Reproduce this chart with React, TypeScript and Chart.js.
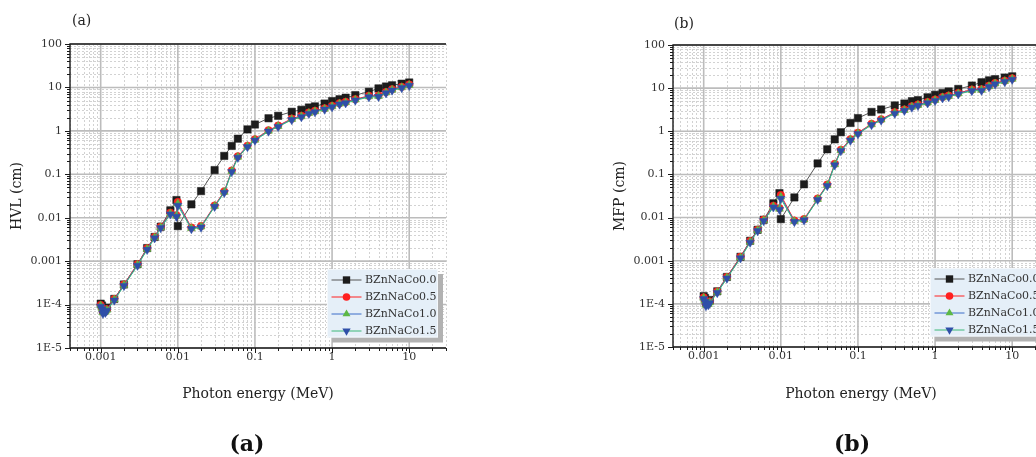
import React, { useEffect, useRef } from 'react';
import { Chart, registerables } from 'chart.js';

Chart.register(...registerables);

const FONT = '"DejaVu Serif", "Liberation Serif", serif';

// Photon energies (MeV)
const ENERGY = [0.001, 0.00104, 0.00107, 0.00115, 0.0012, 0.0015, 0.002, 0.003, 0.004, 0.005, 0.006, 0.008, 0.0096, 0.01, 0.015, 0.02, 0.03, 0.04, 0.05, 0.06, 0.08, 0.1, 0.15, 0.2, 0.3, 0.4, 0.5, 0.6, 0.8, 1, 1.25, 1.5, 2, 3, 4, 5, 6, 8, 10];

const LABELS = ['BZnNaCo0.0', 'BZnNaCo0.5', 'BZnNaCo1.0', 'BZnNaCo1.5'];

// HVL (cm)
const HVL_CO00 = [1.05e-4, 9.5e-5, 7.5e-5, 8.0e-5, 8.5e-5, 1.35e-4, 2.9e-4, 8.5e-4, 0.002, 0.0036, 0.0062, 0.0148, 0.0255, 0.0064, 0.0203, 0.041, 0.125, 0.265, 0.45, 0.66, 1.08, 1.4, 1.95, 2.22, 2.75, 3.05, 3.45, 3.66, 4.25, 4.85, 5.35, 5.8, 6.65, 7.95, 9.5, 10.5, 11.2, 12.2, 13.0];
const HVL_CO05 = [9.8e-5, 8.5e-5, 6.8e-5, 7.0e-5, 7.8e-5, 1.34e-4, 2.9e-4, 8.5e-4, 0.00197, 0.0036, 0.0062, 0.013, 0.0114, 0.023, 0.0059, 0.0064, 0.0191, 0.0403, 0.122, 0.258, 0.455, 0.64, 1.03, 1.32, 1.91, 2.22, 2.63, 2.89, 3.3, 3.77, 4.33, 4.64, 5.36, 6.4, 6.5, 7.84, 9.07, 10.3, 11.65];
const HVL_CO10 = [9.5e-5, 8.2e-5, 6.5e-5, 6.8e-5, 7.5e-5, 1.3e-4, 2.8e-4, 8.2e-4, 0.0019, 0.0035, 0.006, 0.0125, 0.011, 0.021, 0.0057, 0.0062, 0.0185, 0.039, 0.118, 0.25, 0.44, 0.62, 1.0, 1.28, 1.85, 2.15, 2.55, 2.8, 3.2, 3.65, 4.2, 4.5, 5.2, 6.2, 6.3, 7.6, 8.8, 10.0, 11.3];
const HVL_CO15 = [9.0e-5, 7.8e-5, 6.2e-5, 6.5e-5, 7.2e-5, 1.25e-4, 2.7e-4, 7.9e-4, 0.00183, 0.00338, 0.0058, 0.012, 0.0106, 0.019, 0.0055, 0.006, 0.0179, 0.0377, 0.114, 0.242, 0.425, 0.6, 0.97, 1.24, 1.79, 2.08, 2.47, 2.71, 3.1, 3.53, 4.07, 4.36, 5.04, 6.0, 6.1, 7.36, 8.53, 9.7, 10.95];

// MFP (cm)
const MFP_CO00 = [1.51e-4, 1.37e-4, 1.08e-4, 1.15e-4, 1.23e-4, 1.95e-4, 4.2e-4, 1.23e-3, 0.0029, 0.0052, 0.0089, 0.0214, 0.0368, 0.0092, 0.0293, 0.059, 0.18, 0.382, 0.65, 0.95, 1.56, 2.02, 2.81, 3.2, 3.97, 4.4, 4.98, 5.28, 6.13, 7.0, 7.72, 8.37, 9.59, 11.47, 13.7, 15.15, 16.16, 17.6, 18.76];
const MFP_CO05 = [1.41e-4, 1.23e-4, 9.8e-5, 1.01e-4, 1.13e-4, 1.93e-4, 4.18e-4, 1.23e-3, 0.00284, 0.0052, 0.00894, 0.0188, 0.0164, 0.0332, 0.0085, 0.0092, 0.0276, 0.0581, 0.176, 0.372, 0.656, 0.923, 1.49, 1.9, 2.76, 3.2, 3.79, 4.17, 4.76, 5.44, 6.25, 6.69, 7.73, 9.23, 9.38, 11.31, 13.09, 14.86, 16.81];
const MFP_CO10 = [1.37e-4, 1.18e-4, 9.4e-5, 9.8e-5, 1.08e-4, 1.88e-4, 4.04e-4, 1.18e-3, 0.00274, 0.00505, 0.00866, 0.018, 0.0159, 0.0303, 0.0082, 0.0089, 0.0267, 0.0563, 0.17, 0.36, 0.635, 0.894, 1.44, 1.85, 2.67, 3.1, 3.68, 4.04, 4.62, 5.27, 6.06, 6.49, 7.5, 8.94, 9.09, 10.96, 12.7, 14.43, 16.3];
const MFP_CO15 = [1.3e-4, 1.13e-4, 8.9e-5, 9.4e-5, 1.04e-4, 1.8e-4, 3.9e-4, 1.14e-3, 0.00264, 0.00488, 0.00837, 0.0173, 0.0153, 0.0274, 0.00794, 0.00866, 0.0258, 0.0544, 0.164, 0.349, 0.613, 0.866, 1.4, 1.79, 2.58, 3.0, 3.56, 3.91, 4.47, 5.09, 5.87, 6.29, 7.27, 8.66, 8.8, 10.62, 12.31, 13.99, 15.8];

const X_TICK_VALUES = [0.001, 0.01, 0.1, 1, 10];
const X_TICK_LABELS = ['0.001', '0.01', '0.1', '1', '10'];
const Y_TICK_VALUES = [1e-5, 1e-4, 0.001, 0.01, 0.1, 1, 10, 100];
const Y_TICK_LABELS = ['1E-5', '1E-4', '0.001', '0.01', '0.1', '1', '10', '100'];

const X_MIN = 0.0004;
const X_MAX = 30;
const Y_MIN = 1e-5;
const Y_MAX = 100;

const LINE_COLORS = ['#555555', '#ff2020', '#3a6cc8', '#3cb878'];
const MARKER_COLORS = ['#1c1c1c', '#ff2020', '#5cb845', '#2f4fa8'];
const MARKER_STYLES = ['rect', 'circle', 'triangle', 'triangle'];
const MARKER_ROT = [0, 0, 0, 180];
const MARKER_RADIUS = [5.2, 3.8, 4.6, 4.8];

function isDecade(v: number) {
  const l = Math.log10(v);
  return Math.abs(l - Math.round(l)) < 1e-6;
}

function logTicks(min: number, max: number) {
  const out: { value: number }[] = [];
  for (let e = Math.floor(Math.log10(min)); e <= Math.ceil(Math.log10(max)); e++) {
    for (let m = 1; m <= 9; m++) {
      const v = parseFloat((m * Math.pow(10, e)).toPrecision(6));
      if (v >= min * 0.9999 && v <= max * 1.0001) out.push({ value: v });
    }
  }
  return out;
}

function labelFor(values: number[], labels: string[], v: number) {
  const i = values.findIndex((t) => Math.abs(t - v) / t < 1e-6);
  return i >= 0 ? labels[i] : '';
}

function drawMarker(ctx: CanvasRenderingContext2D, style: string, x: number, y: number, r: number, rot: number, color: string) {
  ctx.fillStyle = color;
  ctx.beginPath();
  if (style === 'rect') {
    const s = r * Math.SQRT1_2;
    ctx.rect(x - s, y - s, 2 * s, 2 * s);
  } else if (style === 'circle') {
    ctx.arc(x, y, r, 0, Math.PI * 2);
  } else {
    let a = (rot * Math.PI) / 180;
    for (let k = 0; k < 3; k++) {
      const px = x + Math.sin(a) * r;
      const py = y - Math.cos(a) * r;
      if (k === 0) ctx.moveTo(px, py);
      else ctx.lineTo(px, py);
      a += (2 * Math.PI) / 3;
    }
    ctx.closePath();
  }
  ctx.fill();
}

const framePlugin = {
  id: 'frameAndLegend',
  beforeDatasetsDraw(chart: any) {
    const { ctx, chartArea: ca } = chart;
    const xs = chart.scales.x;
    const ys = chart.scales.y;
    ctx.save();
    // minor grid
    ctx.lineWidth = 1;
    ctx.strokeStyle = '#d2d2d2';
    ctx.setLineDash([2, 2]);
    for (const t of xs.ticks) {
      if (isDecade(t.value)) continue;
      const px = Math.round(xs.getPixelForValue(t.value)) + 0.5;
      ctx.beginPath();
      ctx.moveTo(px, ca.top);
      ctx.lineTo(px, ca.bottom);
      ctx.stroke();
    }
    for (const t of ys.ticks) {
      if (isDecade(t.value)) continue;
      const py = Math.round(ys.getPixelForValue(t.value)) + 0.5;
      ctx.beginPath();
      ctx.moveTo(ca.left, py);
      ctx.lineTo(ca.right, py);
      ctx.stroke();
    }
    // major grid
    ctx.setLineDash([]);
    ctx.lineWidth = 1.6;
    ctx.strokeStyle = '#bcbcbc';
    for (const t of xs.ticks) {
      if (!isDecade(t.value)) continue;
      const px = xs.getPixelForValue(t.value);
      ctx.beginPath();
      ctx.moveTo(px, ca.top);
      ctx.lineTo(px, ca.bottom);
      ctx.stroke();
    }
    for (const t of ys.ticks) {
      if (!isDecade(t.value)) continue;
      const py = ys.getPixelForValue(t.value);
      ctx.beginPath();
      ctx.moveTo(ca.left, py);
      ctx.lineTo(ca.right, py);
      ctx.stroke();
    }
    ctx.restore();
  },
  afterDatasetsDraw(chart: any) {
    const { ctx, chartArea: ca } = chart;
    const xs = chart.scales.x;
    const ys = chart.scales.y;
    ctx.save();
    ctx.strokeStyle = '#1a1a1a';
    ctx.lineWidth = 1;
    for (const t of xs.ticks) {
      const px = Math.round(xs.getPixelForValue(t.value)) + 0.5;
      const len = isDecade(t.value) ? 5 : 3;
      ctx.beginPath();
      ctx.moveTo(px, ca.bottom);
      ctx.lineTo(px, ca.bottom + len);
      ctx.stroke();
    }
    for (const t of ys.ticks) {
      const py = Math.round(ys.getPixelForValue(t.value)) + 0.5;
      const len = isDecade(t.value) ? 5 : 3;
      ctx.beginPath();
      ctx.moveTo(ca.left, py);
      ctx.lineTo(ca.left - len, py);
      ctx.stroke();
    }
    ctx.lineWidth = 1.4;
    ctx.beginPath();
    ctx.moveTo(ca.right, ca.top);
    ctx.lineTo(ca.left, ca.top);
    ctx.lineTo(ca.left, ca.bottom);
    ctx.lineTo(ca.right, ca.bottom);
    ctx.stroke();
    ctx.restore();
  },
  afterDraw(chart: any) {
    const { ctx, chartArea: ca } = chart;
    const w = 111;
    const h = 68.5;
    const left = ca.right - 8 - w;
    const top = ca.bottom - 10.5 - h;
    ctx.save();
    ctx.fillStyle = '#b2b2b2';
    ctx.fillRect(left + 5, top + 5, w, h);
    ctx.fillStyle = '#e5eff8';
    ctx.fillRect(left, top, w, h);
    ctx.strokeStyle = '#f4f8fc';
    ctx.lineWidth = 1;
    ctx.strokeRect(left + 0.5, top + 0.5, w - 1, h - 1);
    ctx.font = `11px ${FONT}`;
    ctx.textBaseline = 'middle';
    ctx.textAlign = 'left';
    chart.data.datasets.forEach((ds: any, i: number) => {
      const y = top + 11 + i * 17;
      ctx.strokeStyle = LINE_COLORS[i];
      ctx.lineWidth = 1;
      ctx.beginPath();
      ctx.moveTo(left + 4.5, y);
      ctx.lineTo(left + 34.5, y);
      ctx.stroke();
      drawMarker(ctx, MARKER_STYLES[i], left + 19.5, y, MARKER_RADIUS[i], MARKER_ROT[i], MARKER_COLORS[i]);
      ctx.fillStyle = '#333333';
      ctx.fillText(ds.label, left + 38, y + 0.5);
    });
    ctx.restore();
  },
};

type PanelProps = {
  series: number[][];
  yTitle: string;
  padTop: number;
  xAxisHeight: number;
  left: number;
};

function Panel({ series, yTitle, padTop, xAxisHeight, left }: PanelProps) {
  const ref = useRef<HTMLCanvasElement>(null);
  useEffect(() => {
    const canvas = ref.current;
    if (!canvas) return;
    const chart = new Chart(canvas, {
      type: 'scatter',
      data: {
        datasets: LABELS.map((label, i) => ({
          label,
          data: ENERGY.map((e, k) => ({ x: e, y: series[i][k] })),
          showLine: true,
          borderColor: LINE_COLORS[i],
          borderWidth: 1,
          backgroundColor: MARKER_COLORS[i],
          pointBackgroundColor: MARKER_COLORS[i],
          pointBorderColor: MARKER_COLORS[i],
          pointBorderWidth: 0.5,
          pointStyle: MARKER_STYLES[i] as any,
          pointRotation: MARKER_ROT[i],
          pointRadius: MARKER_RADIUS[i],
          order: 3 - i,
          tension: 0,
        })),
      },
      options: {
        responsive: false,
        animation: false,
        events: [],
        layout: { padding: { top: padTop, left: 0, right: 72, bottom: 0 } },
        plugins: { legend: { display: false }, tooltip: { enabled: false } },
        scales: {
          x: {
            type: 'logarithmic',
            position: 'bottom',
            min: X_MIN,
            max: X_MAX,
            afterBuildTicks: (s: any) => {
              s.ticks = logTicks(X_MIN, X_MAX);
            },
            afterFit: (s: any) => {
              s.height = xAxisHeight;
            },
            grid: { display: false, drawTicks: false },
            border: { display: false },
            ticks: {
              autoSkip: false,
              maxRotation: 0,
              minRotation: 0,
              padding: 3,
              color: '#333333',
              font: { family: FONT, size: 11 },
              callback: (v: any) => labelFor(X_TICK_VALUES, X_TICK_LABELS, Number(v)),
            },
            title: {
              display: true,
              text: 'Photon energy (MeV)',
              color: '#222222',
              font: { family: FONT, size: 14 },
              padding: { top: 0, bottom: 54.6 },
            },
          },
          y: {
            type: 'logarithmic',
            position: 'left',
            min: Y_MIN,
            max: Y_MAX,
            afterBuildTicks: (s: any) => {
              s.ticks = logTicks(Y_MIN, Y_MAX);
            },
            afterFit: (s: any) => {
              s.width = 70;
            },
            grid: { display: false, drawTicks: false },
            border: { display: false },
            ticks: {
              autoSkip: false,
              padding: 8,
              color: '#333333',
              font: { family: FONT, size: 11 },
              callback: (v: any) => labelFor(Y_TICK_VALUES, Y_TICK_LABELS, Number(v)),
            },
            title: {
              display: true,
              text: yTitle,
              color: '#222222',
              font: { family: FONT, size: 14 },
              padding: { top: 9, bottom: 0 },
            },
          },
        },
      } as any,
      plugins: [framePlugin],
    });
    return () => chart.destroy();
  }, []);
  return (
    <canvas
      ref={ref}
      width={518}
      height={457}
      style={{ position: 'absolute', left, top: 0, width: 518, height: 457 }}
    />
  );
}

const smallLabel: React.CSSProperties = {
  position: 'absolute',
  fontFamily: FONT,
  fontSize: 14,
  lineHeight: '16px',
  color: '#222',
};

const bigLabel: React.CSSProperties = {
  position: 'absolute',
  width: 100,
  textAlign: 'center',
  fontFamily: FONT,
  fontWeight: 'bold',
  fontSize: 22,
  lineHeight: '26px',
  color: '#111',
};

export default function App() {
  return (
    <div
      style={{
        position: 'fixed',
        left: 0,
        top: 0,
        width: 1036,
        height: 457,
        overflow: 'hidden',
        background: '#ffffff',
      }}
    >
      <Panel series={[HVL_CO00, HVL_CO05, HVL_CO10, HVL_CO15]} yTitle="HVL (cm)" padTop={44} xAxisHeight={109} left={0} />
      <Panel series={[MFP_CO00, MFP_CO05, MFP_CO10, MFP_CO15]} yTitle="MFP (cm)" padTop={45} xAxisHeight={110} left={603} />
      <div style={{ ...smallLabel, left: 72, top: 12 }}>(a)</div>
      <div style={{ ...smallLabel, left: 674, top: 15 }}>(b)</div>
      <div style={{ ...bigLabel, left: 197, top: 430 }}>(a)</div>
      <div style={{ ...bigLabel, left: 802, top: 430 }}>(b)</div>
    </div>
  );
}
